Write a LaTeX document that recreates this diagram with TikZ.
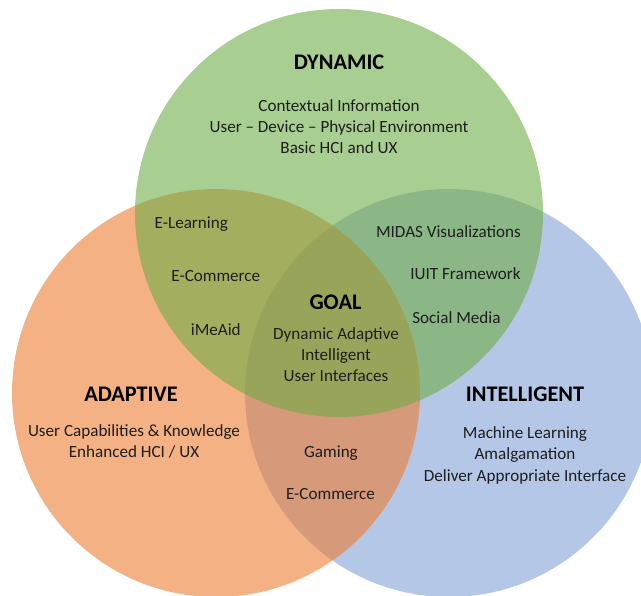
\documentclass[tikz,border=0pt]{standalone}
\usepackage{fontspec}
\setmainfont{Carlito}
\usetikzlibrary{positioning}
\definecolor{dynGreen}{HTML}{70AD47}
\definecolor{adaOrange}{HTML}{ED7D31}
\definecolor{intBlue}{HTML}{4472C4}
\definecolor{txtGray}{HTML}{1E1E1E}

\begin{document}
\begin{tikzpicture}[
	%Environment config
	x=1pt, y=-1pt,
	%Environment styles
	SetCfg/.style={fill=#1, fill opacity=0.6},
	HeadCfg/.style={anchor=base, inner sep=0pt, text=black,
		font=\fontsize{22.3}{26}\selectfont\bfseries},
	ItemCfg/.style={anchor=base, inner sep=0pt, text=txtGray,
		font=\fontsize{17.1}{20}\selectfont}
	]
	\clip (0,0) rectangle (641,596);
	%Sets
	\fill[SetCfg=intBlue, fill opacity=0.4] (449,393) circle[radius=204pt];
	\fill[SetCfg=adaOrange] (216,393) circle[radius=204pt];
	\fill[SetCfg=dynGreen] (339,213) circle[radius=204pt];
	
	%Dynamic
	\path
	(339,69.5) node[HeadCfg](DYN){DYNAMIC}
	++(0,42) node[ItemCfg](DYN1){Contextual Information}
	++(0,21.2) node[ItemCfg](DYN2){User – Device – Physical Environment}
	++(0,21.2) node[ItemCfg](DYN3){Basic HCI and UX};
	
	%Adaptive
	\path
	(131,401.5) node[HeadCfg](ADA){ADAPTIVE}
	++(3,35) node[ItemCfg](ADA1){User Capabilities \& Knowledge}
	++(0,21) node[ItemCfg](ADA2){Enhanced HCI / UX};
	
	%Intelligent
	\path
	(525,401.7) node[HeadCfg](INT){INTELLIGENT}
	++(0,36.5) node[ItemCfg](INT1){Machine Learning}
	++(0,21.5) node[ItemCfg](INT2){Amalgamation}
	++(0,21.5) node[ItemCfg](INT3){Deliver Appropriate Interface};
	
	%Goal
	\path
	(335.5,309.3) node[HeadCfg](GOAL){GOAL}
	++(0.5,30.2) node[ItemCfg](GOAL1){Dynamic Adaptive}
	++(0,21) node[ItemCfg](GOAL2){Intelligent}
	++(0,21) node[ItemCfg](GOAL3){User Interfaces};
	
	%Dynamic + Adaptive
	\path
	(191.3,228.3) node[ItemCfg](DA1){E-Learning}
	(215.8,281.8) node[ItemCfg](DA2){E-Commerce}
	(215.8,336) node[ItemCfg](DA3){iMeAid};
	
	%Dynamic + Intelligent
	\path
	(448.5,237.5) node[ItemCfg](DI1){MIDAS Visualizations}
	(465.5,280) node[ItemCfg](DI2){IUIT Framework}
	(456.5,324) node[ItemCfg](DI3){Social Media};
	
	%Adaptive + Intelligent
	\path
	(331,457.5) node[ItemCfg](AI1){Gaming}
	++(-0.5,42) node[ItemCfg](AI2){E-Commerce};
\end{tikzpicture}
\end{document}
